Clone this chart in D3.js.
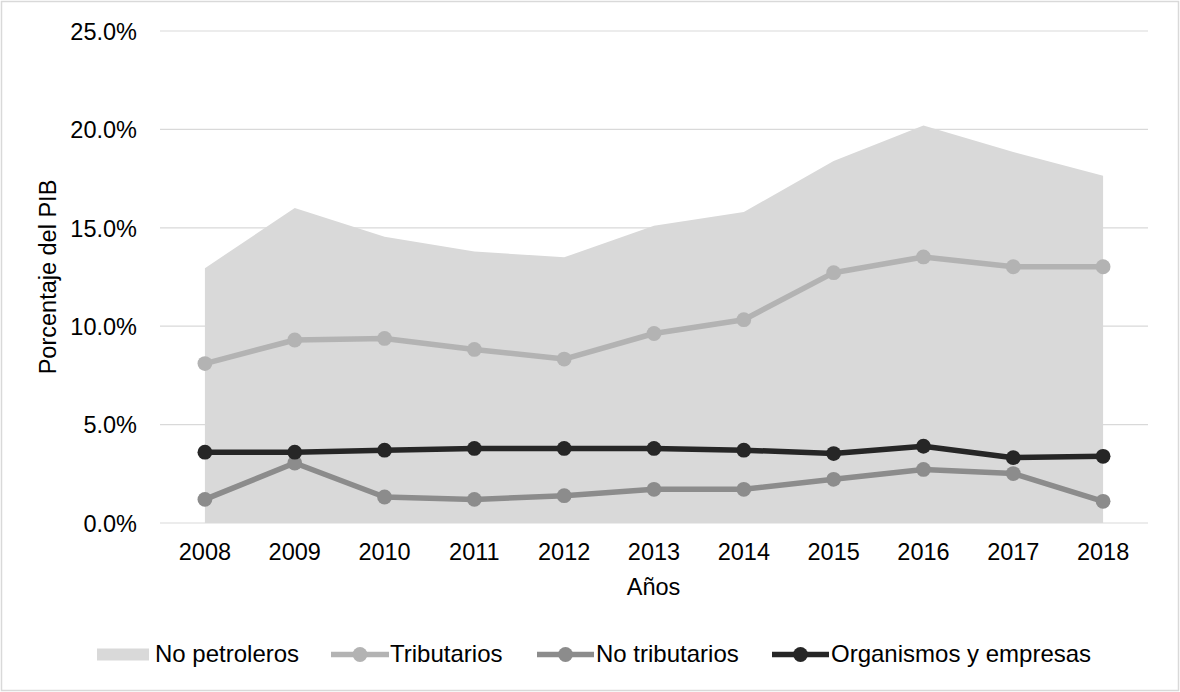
<!DOCTYPE html>
<html>
<head>
<meta charset="utf-8">
<script src="https://cdn.jsdelivr.net/npm/d3@7"></script>
<style>
  html, body { margin: 0; padding: 0; background: #fff; }
  svg { display: block; font-family: "Liberation Sans", Arial, sans-serif; }
</style>
</head>
<body>
<svg id="chart" width="1180" height="692"></svg>
<script>
// Ingresos no petroleros como porcentaje del PIB, 2008-2018
const years = ["2008","2009","2010","2011","2012","2013","2014","2015","2016","2017","2018"];
const noPetroleros = [12.95, 16.0, 14.55, 13.8, 13.5, 15.1, 15.8, 18.4, 20.2, 18.85, 17.65];
const tributarios = [8.1, 9.3, 9.38, 8.82, 8.33, 9.63, 10.33, 12.72, 13.52, 13.02, 13.02];
const noTributarios = [1.2, 3.05, 1.32, 1.2, 1.39, 1.71, 1.71, 2.22, 2.72, 2.51, 1.1];
const organismos = [3.6, 3.6, 3.7, 3.79, 3.79, 3.79, 3.7, 3.53, 3.9, 3.32, 3.39];
const yTicks = [0, 5, 10, 15, 20, 25];

const FONT = 23.5;
const LEGEND_FONT = 24;
const svg = d3.select("#chart");
const W = 1180, H = 692;
const m = { left: 160, right: 32, top: 31, bottom: 169 };

// outer frame
svg.append("rect").attr("x", 1.5).attr("y", 1.5).attr("width", W - 3).attr("height", H - 3)
  .attr("fill", "#fff").attr("stroke", "#d9d9d9").attr("stroke-width", 1.5);

const x = d3.scaleBand().domain(years).range([m.left, W - m.right]);
const y = d3.scaleLinear().domain([0, 25]).range([H - m.bottom, m.top]);
const cx = d => x(d) + x.bandwidth() / 2;

// gridlines
svg.append("g").selectAll("line").data(yTicks).join("line")
  .attr("x1", m.left).attr("x2", W - m.right)
  .attr("y1", d => y(d)).attr("y2", d => y(d))
  .attr("stroke", "#d9d9d9").attr("stroke-width", 1.2);

// area: No petroleros
const area = d3.area().x((d, i) => cx(years[i])).y0(y(0)).y1(d => y(d));
svg.append("path").datum(noPetroleros).attr("d", area).attr("fill", "#d9d9d9");

// y axis
const yAxis = d3.axisLeft(y).tickValues(yTicks).tickFormat(d => d.toFixed(1) + "%").tickSize(0).tickPadding(0);
const yg = svg.append("g").attr("transform", `translate(${m.left - 23},0)`).call(yAxis);
yg.attr("font-size", null).attr("font-family", null);
yg.select(".domain").remove();
yg.selectAll("text").attr("font-size", FONT).attr("fill", "#000").attr("dy", "0.35em");

// x axis
const xAxis = d3.axisBottom(x).tickSize(0).tickPadding(0);
const xg = svg.append("g").attr("transform", `translate(0,${y(0)})`).call(xAxis);
xg.attr("font-size", null).attr("font-family", null);
xg.select(".domain").remove();
xg.selectAll("text").attr("font-size", FONT).attr("fill", "#000").attr("y", 36.5).attr("dy", null);

// axis titles
svg.append("text").attr("x", 653.5).attr("y", 595)
  .attr("text-anchor", "middle").attr("font-size", FONT).attr("fill", "#000").text("Años");
svg.append("text").attr("transform", `translate(56,${(y(0) + y(25)) / 2}) rotate(-90)`)
  .attr("text-anchor", "middle").attr("font-size", FONT).attr("fill", "#000").text("Porcentaje del PIB");

// line series
const series = [
  { name: "Tributarios", values: tributarios, color: "#b3b3b3" },
  { name: "No tributarios", values: noTributarios, color: "#8c8c8c" },
  { name: "Organismos y empresas", values: organismos, color: "#262626" }
];
const line = d3.line().x((d, i) => cx(years[i])).y(d => y(d));
series.forEach(s => {
  const g = svg.append("g");
  g.append("path").datum(s.values).attr("d", line).attr("fill", "none")
    .attr("stroke", s.color).attr("stroke-width", 5.5).attr("stroke-linejoin", "round");
  g.selectAll("circle").data(s.values).join("circle")
    .attr("cx", (d, i) => cx(years[i])).attr("cy", d => y(d)).attr("r", 7.4).attr("fill", s.color);
});

// legend
const ly = 654.5;
const leg = svg.append("g").attr("font-size", LEGEND_FONT).attr("fill", "#000");
leg.append("rect").attr("x", 97).attr("y", ly - 6).attr("width", 52).attr("height", 12).attr("fill", "#d9d9d9");
leg.append("text").attr("x", 155).attr("y", 662).text("No petroleros");
const legItems = [
  { s: series[0], x0: 331, x1: 389, tx: 390 },
  { s: series[1], x0: 537, x1: 594, tx: 596 },
  { s: series[2], x0: 772, x1: 829, tx: 831 }
];
legItems.forEach(it => {
  leg.append("line").attr("x1", it.x0).attr("x2", it.x1).attr("y1", ly).attr("y2", ly)
    .attr("stroke", it.s.color).attr("stroke-width", 5.5);
  leg.append("circle").attr("cx", (it.x0 + it.x1) / 2).attr("cy", ly).attr("r", 7.4).attr("fill", it.s.color);
  leg.append("text").attr("x", it.tx).attr("y", 662).text(it.s.name);
});
</script>
</body>
</html>
